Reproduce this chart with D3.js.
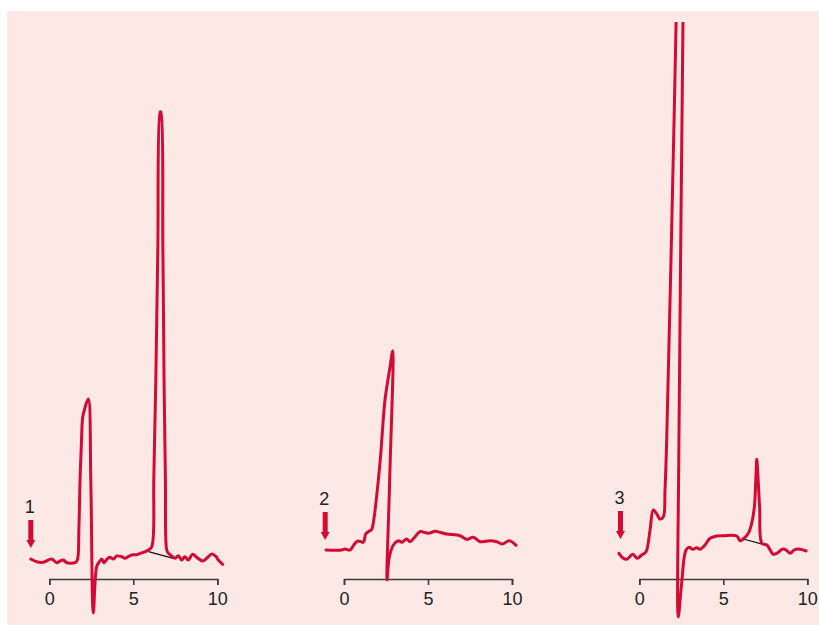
<!DOCTYPE html>
<html>
<head>
<meta charset="utf-8">
<script src="https://cdn.jsdelivr.net/npm/d3@7"></script>
<style>
  html, body { margin: 0; padding: 0; background: #fff; }
  svg { display: block; }
  text { font-family: "Liberation Sans", Arial, sans-serif; fill: #222; }
</style>
</head>
<body>
<div id="chart"></div>
<script>
// trace values as [time, amplitude]
const trace1 = [[-1.1,2.0],[-0.75,1.73],[-0.36,1.67],[0.14,2.0],[0.44,1.63],[0.64,1.8],[0.83,1.9],[1.03,1.63],[1.23,1.57],[1.53,1.63],[1.67,1.9],[1.76,5],[1.83,9.9],[1.92,14],[1.99,16.2],[2.12,17.1],[2.32,18.0],[2.47,9.9],[2.62,-3.4],[2.82,1.23],[2.98,1.73],[3.12,2.0],[3.26,1.63],[3.42,1.97],[3.61,2.17],[3.81,2.0],[4.01,2.3],[4.31,2.23],[4.5,2.07],[4.7,2.23],[4.9,2.4],[5.2,2.43],[5.6,2.67],[5.9,2.9],[6.1,3.23],[6.22,10],[6.34,19.9],[6.46,33],[6.6,46.7],[6.64,46.7],[6.76,33],[6.83,19.9],[6.91,10],[6.99,2.9],[7.09,2.57],[7.29,2.3],[7.48,2.07],[7.68,2.33],[7.88,1.9],[8.07,2.23],[8.27,1.9],[8.53,2.47],[8.77,2.17],[9.13,1.8],[9.37,2.07],[9.67,2.5],[9.93,2.23],[10.06,1.9],[10.32,1.47]];
const trace2 = [[-1.07,2.9],[-0.14,2.9],[0.06,3.0],[0.36,2.9],[0.65,3.57],[0.85,3.8],[1.15,3.67],[1.29,4.5],[1.45,4.73],[1.65,4.97],[1.74,5.57],[2.14,11.57],[2.44,17.9],[2.74,21.2],[2.9,22.8],[2.72,10],[2.56,-0.1],[2.7,2.23],[2.94,3.4],[3.24,3.83],[3.44,3.67],[3.73,4.0],[3.93,3.73],[4.23,4.23],[4.52,4.73],[5.02,4.57],[5.42,4.77],[5.71,4.67],[6.11,4.5],[6.9,4.33],[7.3,3.97],[7.7,4.17],[8.1,3.73],[8.69,3.83],[9.09,3.73],[9.42,3.5],[9.84,3.83],[10.24,3.37]];
const trace3 = [[-1.21,2.57],[-0.95,2.07],[-0.75,1.97],[-0.39,2.47],[-0.12,2.07],[0.14,2.4],[0.4,2.73],[0.64,4.9],[0.83,6.9],[1.04,6.5],[1.23,6.0],[1.43,6.23],[1.53,8.9],[1.63,13.9],[2.07,45.9],[2.19,55.7],[2.25,60],[2.42,63],[2.62,60],[2.6,55.7],[2.36,13.9],[2.32,-3.8],[2.52,-0.43],[2.78,2.9],[2.98,3.17],[3.18,2.97],[3.42,3.13],[3.61,2.97],[3.91,3.4],[4.21,4.07],[4.61,4.3],[5.0,4.33],[5.8,4.3],[6.0,3.83],[6.19,4.0],[6.49,4.57],[6.69,5.57],[6.85,7.23],[6.95,10.57],[6.99,11.97],[7.16,7.23],[7.3,3.57],[7.6,3.4],[7.79,2.9],[7.95,2.5],[8.19,2.57],[8.54,3.0],[8.74,2.9],[8.98,2.57],[9.21,2.9],[9.47,3.0],[9.93,2.8]];

// thin black baseline segments under the second peaks
const base1 = [[5.9,2.73],[7.38,2.07]];
const base3 = [[6.19,4.0],[7.38,3.47]];

const tickValues = [0, 5, 10];
const panelLabels = ["1", "2", "3"];
const markerT = [-1.1, -1.12, -1.12];
const markerV = [3.1, 3.9, 4.0];

const width = 819, height = 625;
const red = "#d20a34";

const svg = d3.select("#chart").append("svg")
  .attr("width", width)
  .attr("height", height);

svg.append("rect")
  .attr("x", 7).attr("y", 11)
  .attr("width", width - 7).attr("height", height - 11)
  .attr("fill", "#fce9e5");

svg.append("clipPath").attr("id", "clip")
  .append("rect").attr("x", 7).attr("y", 22).attr("width", width).attr("height", height);

const y = d3.scaleLinear().domain([0, 56.8]).range([579, 11]);

const panels = [
  { trace: trace1, base: base1, x0: 49.3 },
  { trace: trace2, base: null, x0: 344 },
  { trace: trace3, base: base3, x0: 639.3 }
];

panels.forEach((p, i) => {
  const x = d3.scaleLinear().domain([0, 10]).range([p.x0, p.x0 + 168]);
  const g = svg.append("g");

  // axis
  const ax = g.append("g")
    .attr("transform", `translate(0,${y(0)})`)
    .call(d3.axisBottom(x).tickValues(tickValues).tickSize(6).tickPadding(7));
  ax.select(".domain").attr("stroke", "#3a3a3a").attr("stroke-width", 1.6);
  ax.selectAll(".tick line").attr("stroke", "#3a3a3a").attr("stroke-width", 1.6);
  ax.selectAll(".tick text")
    .attr("font-family", "Liberation Sans, Arial, sans-serif")
    .attr("font-size", 18)
    .attr("fill", "#222");

  if (p.base) {
    g.append("path")
      .attr("d", d3.line().x(d => x(d[0])).y(d => y(d[1]))(p.base))
      .attr("fill", "none")
      .attr("stroke", "#111")
      .attr("stroke-width", 1.2);
  }

  const line = d3.line()
    .x(d => x(d[0]))
    .y(d => y(d[1]))
    .curve(d3.curveCatmullRom.alpha(0.5));

  g.append("path")
    .attr("d", line(p.trace))
    .attr("clip-path", "url(#clip)")
    .attr("fill", "none")
    .attr("stroke", red)
    .attr("stroke-width", 3)
    .attr("stroke-linejoin", "round")
    .attr("stroke-linecap", "round");

  // stimulus arrow + label
  const ax0 = x(markerT[i]), tip = y(markerV[i]);
  g.append("path")
    .attr("d", `M${ax0 - 2.5},${tip - 28}H${ax0 + 2.5}V${tip - 8}H${ax0 + 4.5}L${ax0},${tip}L${ax0 - 4.5},${tip - 8}H${ax0 - 2.5}Z`)
    .attr("fill", red);
  g.append("text")
    .attr("x", ax0 - 1)
    .attr("y", tip - 35)
    .attr("text-anchor", "middle")
    .attr("font-size", 18)
    .text(panelLabels[i]);
});
</script>
</body>
</html>
